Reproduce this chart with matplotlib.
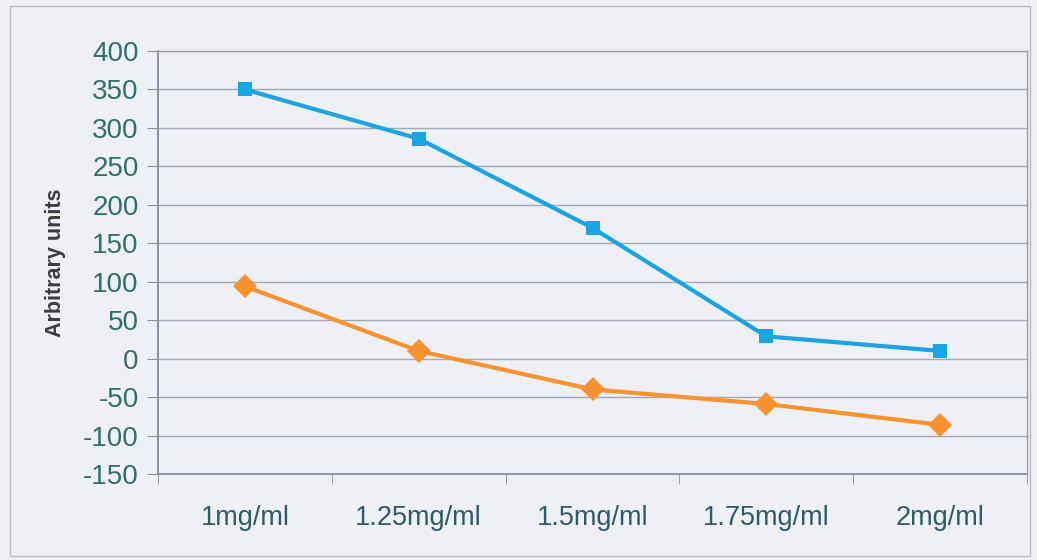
import numpy as np
import matplotlib
matplotlib.use("Agg")
import matplotlib.pyplot as plt
from matplotlib.patches import Rectangle

plt.rcParams['font.family'] = ['Liberation Sans', 'DejaVu Sans']
plt.rcParams['axes.unicode_minus'] = False

categories = ['1mg/ml', '1.25mg/ml', '1.5mg/ml', '1.75mg/ml', '2mg/ml']
series_blue = [350, 286, 170, 29, 10]
series_orange = [94, 10, -40, -59, -86]
yticks = [-150, -100, -50, 0, 50, 100, 150, 200, 250, 300, 350, 400]

bg = '#eef0f6'
grid_col = '#a4a8b2'
tick_col = '#2f6f6c'

fig = plt.figure(figsize=(10.37, 5.6), dpi=100)
fig.patch.set_facecolor(bg)
# outer chart frame
fig.patches.append(Rectangle((10 / 1037, 4 / 560), 1020 / 1037, 550 / 560,
                             transform=fig.transFigure, fill=False,
                             edgecolor='#b8bac0', lw=1.0))

ax = fig.add_axes([158 / 1037, 86 / 560, 869 / 1037, 423 / 560])
ax.set_facecolor(bg)

x = np.arange(len(categories))
ax.plot(x, series_blue, color='#1ba4e2', lw=3, marker='s', ms=9.5,
        markeredgewidth=0, zorder=3)
ax.plot(x, series_orange, color='#f7922f', lw=3, marker='D', ms=12,
        markeredgewidth=0, zorder=3)

ax.set_xlim(-0.5, len(categories) - 0.5)
ax.set_ylim(-150, 400)
ax.set_yticks(yticks)
ax.yaxis.grid(True, color=grid_col, lw=1.0)
ax.set_axisbelow(True)

ax.set_xticks(x)
ax.set_xticklabels(categories)
ax.set_xticks(np.arange(-0.5, len(categories), 1.0), minor=True)
ax.tick_params(axis='x', which='major', length=0, pad=22, labelsize=19.5,
               labelcolor='#2d5a6a')
ax.tick_params(axis='x', which='minor', length=7, color='#8a8e98', direction='out')
ax.tick_params(axis='y', length=8, color='#8a8e98', direction='out', pad=6,
               labelsize=20, labelcolor=tick_col)

for side in ['top', 'right']:
    ax.spines[side].set_color('#a09ca4')
    ax.spines[side].set_linewidth(1.0)
for side in ['left', 'bottom']:
    ax.spines[side].set_color('#8a92a6')
    ax.spines[side].set_linewidth(1.4)

ax.set_ylabel('Arbitrary units', fontsize=15.5, fontweight='bold', color='#3c3c3c',
              labelpad=12)

fig.savefig('out.png', dpi=100, facecolor=bg)
